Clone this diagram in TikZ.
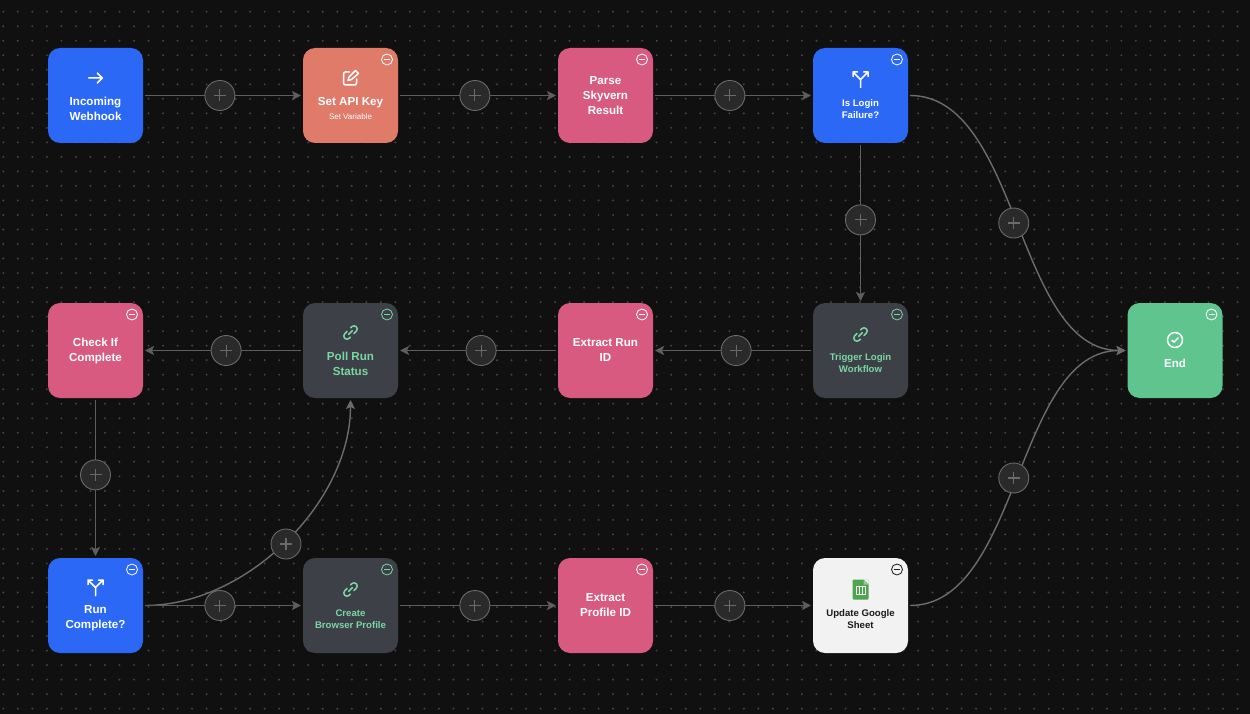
\documentclass[tikz,border=0pt]{standalone}
\usepackage{fontspec}
\setmainfont{Liberation Sans}
\usetikzlibrary{positioning,arrows.meta}

\definecolor{canvas}{HTML}{101010}
\definecolor{griddot}{HTML}{444444}
\definecolor{edgegrey}{HTML}{5E5E5E}
\definecolor{curvegrey}{HTML}{6C6C6C}
\definecolor{plusfill}{HTML}{2A2A2A}
\definecolor{plusline}{HTML}{6A6A6A}
\definecolor{blockblue}{HTML}{2B68F6}
\definecolor{blocksalmon}{HTML}{E07B6A}
\definecolor{blockpink}{HTML}{D95A80}
\definecolor{blockdark}{HTML}{3E4047}
\definecolor{blockgreen}{HTML}{60C48F}
\definecolor{blocklight}{HTML}{F2F2F2}
\definecolor{mint}{HTML}{7AD6A4}
\definecolor{sheetgreen}{HTML}{4FA54F}
\definecolor{ink}{HTML}{1A1A1A}

\tikzset{
    block/.style = {minimum size=95pt, inner sep=0pt, outer sep=2pt, rounded corners=12pt},
    blocktext/.style = {align=center, inner sep=0pt, text=white, font=\fontsize{11.6}{15}\selectfont\bfseries},
    smalltext/.style = {blocktext, font=\fontsize{9.6}{12}\selectfont\bfseries},
    edge/.style = {draw=edgegrey, line width=1.8pt, -{Stealth[length=9pt,width=9pt,inset=2pt]}},
    curve/.style = {draw=curvegrey, line width=1.4pt, -{Stealth[length=9pt,width=9pt,inset=2pt]}},
    plusnode/.style = {circle, draw=plusline, fill=plusfill, line width=.9pt, minimum size=30pt, inner sep=0pt,
        path picture={\draw[-, plusline, line width=1.2pt]
            ([xshift=-6pt]path picture bounding box.center) -- ([xshift=6pt]path picture bounding box.center)
            ([yshift=-6pt]path picture bounding box.center) -- ([yshift=6pt]path picture bounding box.center);}},
    minusnode/.style = {circle, draw=#1, line width=.8pt, minimum size=11pt, inner sep=0pt,
        path picture={\draw[#1, line width=.9pt]
            ([xshift=-3pt]path picture bounding box.center) -- ([xshift=3pt]path picture bounding box.center);}},
    icon/.style = {line width=1.5pt, line cap=round, line join=round},
    arrowicon/.pic = {\draw[icon] (-6.8,0) -- (6.8,0) (1.8,5) -- (6.8,0) -- (1.8,-5);},
    editicon/.pic = {
        \draw[icon, rounded corners=2pt] (-1,6) -- (-7,6) -- (-7,-7) -- (6,-7) -- (6,-1);
        \draw[icon] (-2.5,-2.5) -- (-1.5,1) -- (5,7.5) -- (8,4.5) -- (1,-1.5) -- cycle;},
    forkicon/.pic = {\draw[icon] (0,-8) -- (0,0) (-7.5,7.5) -- (0,0) -- (7.5,7.5)
        (-7.5,3) -- (-7.5,7.5) -- (-3,7.5) (7.5,3) -- (7.5,7.5) -- (3,7.5);},
    linkicon/.pic = {\begin{scope}[rotate=45]
        \draw[icon] (-1.5,3.2) -- (-5,3.2) arc (90:270:3.2pt) -- (-3.5,-3.2);
        \draw[icon] (1.5,-3.2) -- (5,-3.2) arc (-90:90:3.2pt) -- (3.5,3.2);
        \draw[icon] (-2.5,0) -- (2.5,0);
        \end{scope}},
    checkicon/.pic = {\draw[icon] (0,0) circle (7.5pt) (-3,-.3) -- (-1,-2.2) -- (3,2);},
    sheeticon/.pic = {
        \fill[sheetgreen, rounded corners=1pt] (-8,-10) rectangle (8,10);
        \fill[blocklight] (3,10.2) -- (8.2,10.2) -- (8.2,5) -- cycle;
        \fill[sheetgreen!60!white] (3,10) -- (8,5) -- (3,5) -- cycle;
        \draw[blocklight, line width=.8pt] (-4.5,-4.5) rectangle (4.5,3.5) (-1.5,-4.5) -- (-1.5,3.5) (1.5,-4.5) -- (1.5,3.5);},
}

\begin{document}
\begin{tikzpicture}[x=1pt, y=1pt, on grid]
    \fill[canvas] (0,0) rectangle (1250,-714);
    \useasboundingbox (0,0) rectangle (1250,-714);

    % dot grid
    \foreach \i in {0,...,85}
        \foreach \j in {0,...,48}
            \fill[griddot] (3.3+14.52*\i,-11.7-14.52*\j) circle (1.1pt);

    % blocks
    \node[block, fill=blockblue] (webhook) at (95.5,-95.5) {};
    \node[block, fill=blocksalmon] (apikey) [right=255pt of webhook] {};
    \node[block, fill=blockpink] (parse) [right=255pt of apikey] {};
    \node[block, fill=blockblue] (failure) [right=255pt of parse] {};
    \node[block, fill=blockdark] (trigger) [below=255pt of failure] {};
    \node[block, fill=blockpink] (runid) [left=255pt of trigger] {};
    \node[block, fill=blockdark] (poll) [left=255pt of runid] {};
    \node[block, fill=blockpink] (check) [left=255pt of poll] {};
    \node[block, fill=blockblue] (complete) [below=255pt of check] {};
    \node[block, fill=blockdark] (browser) [right=255pt of complete] {};
    \node[block, fill=blockpink] (profileid) [right=255pt of browser] {};
    \node[block, fill=blocklight] (sheet) [right=255pt of profileid] {};
    \node[block, fill=blockgreen] (end) [right=314.5pt of trigger] {};

    % block texts
    \node[blocktext] (webhooktext) at ([yshift=-13pt]webhook) {Incoming\\Webhook};
    \node[blocktext] (apikeytext) at ([yshift=-13pt]apikey) {Set API Key\\[-1pt]{\fontsize{8}{9}\selectfont\mdseries Set Variable}};
    \node[blocktext] (parsetext) at (parse) {Parse\\Skyvern\\Result};
    \node[smalltext] (failuretext) at ([yshift=-13.5pt]failure) {Is Login\\Failure?};
    \node[smalltext, text=mint] (triggertext) at ([yshift=-13pt]trigger) {Trigger Login\\Workflow};
    \node[blocktext] (runidtext) at (runid) {Extract Run\\ID};
    \node[blocktext, text=mint] (polltext) at ([yshift=-13pt]poll) {Poll Run\\Status};
    \node[blocktext] (checktext) at (check) {Check If\\Complete};
    \node[blocktext] (completetext) at ([yshift=-13pt]complete) {Run\\Complete?};
    \node[smalltext, text=mint] (browsertext) at ([yshift=-13.5pt]browser) {Create\\Browser Profile};
    \node[blocktext] (profileidtext) at (profileid) {Extract\\Profile ID};
    \node[smalltext, text=ink] (sheettext) at ([yshift=-13.5pt]sheet) {Update Google\\Sheet};
    \node[blocktext] (endtext) at ([yshift=-12.5pt]end) {End};

    % icons
    \pic[white] at ([yshift=17.5pt]webhook) {arrowicon};
    \pic[white] at ([yshift=17.5pt]apikey) {editicon};
    \pic[white] at ([yshift=16pt]failure) {forkicon};
    \pic[mint] at ([yshift=16pt]trigger) {linkicon};
    \pic[mint] at ([yshift=18pt]poll) {linkicon};
    \pic[white] at ([yshift=18pt]complete) {forkicon};
    \pic[mint] at ([yshift=16pt]browser) {linkicon};
    \pic at ([yshift=16pt]sheet) {sheeticon};
    \pic[white] at ([yshift=10.5pt]end) {checkicon};

    % collapse badges
    \foreach \n in {apikey,parse,failure,complete,end,runid,check,profileid}
        \node[minusnode=white] (\n minus) at ([xshift=36.5pt,yshift=36pt]\n) {};
    \foreach \n in {trigger,poll,browser}
        \node[minusnode=mint] (\n minus) at ([xshift=36.5pt,yshift=36pt]\n) {};
    \node[minusnode=ink] (sheetminus) at ([xshift=36.5pt,yshift=36pt]sheet) {};

    % connectors
    \draw[edge] (webhook) -- node[plusnode, pos=.48] (plus1) {} (apikey);
    \draw[edge] (apikey) -- node[plusnode, pos=.48] (plus2) {} (parse);
    \draw[edge] (parse) -- node[plusnode, pos=.48] (plus3) {} (failure);
    \draw[edge] (failure) -- node[plusnode, pos=.48] (plus4) {} (trigger);
    \draw[edge] (trigger) -- node[plusnode, pos=.48] (plus5) {} (runid);
    \draw[edge] (runid) -- node[plusnode, pos=.48] (plus6) {} (poll);
    \draw[edge] (poll) -- node[plusnode, pos=.48] (plus7) {} (check);
    \draw[edge] (check) -- node[plusnode, pos=.48] (plus8) {} (complete);
    \draw[curve] (complete.east) .. controls +(102,0) and +(0,-102) .. node[plusnode, pos=.5, yshift=-3pt] (plus9) {} (poll.south);
    \draw[edge] (complete) -- node[plusnode, pos=.48] (plus10) {} (browser);
    \draw[edge] (browser) -- node[plusnode, pos=.48] (plus11) {} (profileid);
    \draw[edge] (profileid) -- node[plusnode, pos=.48] (plus12) {} (sheet);
    \draw[curve] (failure.east) .. controls +(110,0) and +(-110,0) .. node[plusnode, pos=.5, xshift=-4pt] (plus13) {} (end.west);
    \draw[curve] (sheet.east) .. controls +(110,0) and +(-110,0) .. node[plusnode, pos=.5, xshift=-4pt] (plus14) {} (end.west);
\end{tikzpicture}
\end{document}
